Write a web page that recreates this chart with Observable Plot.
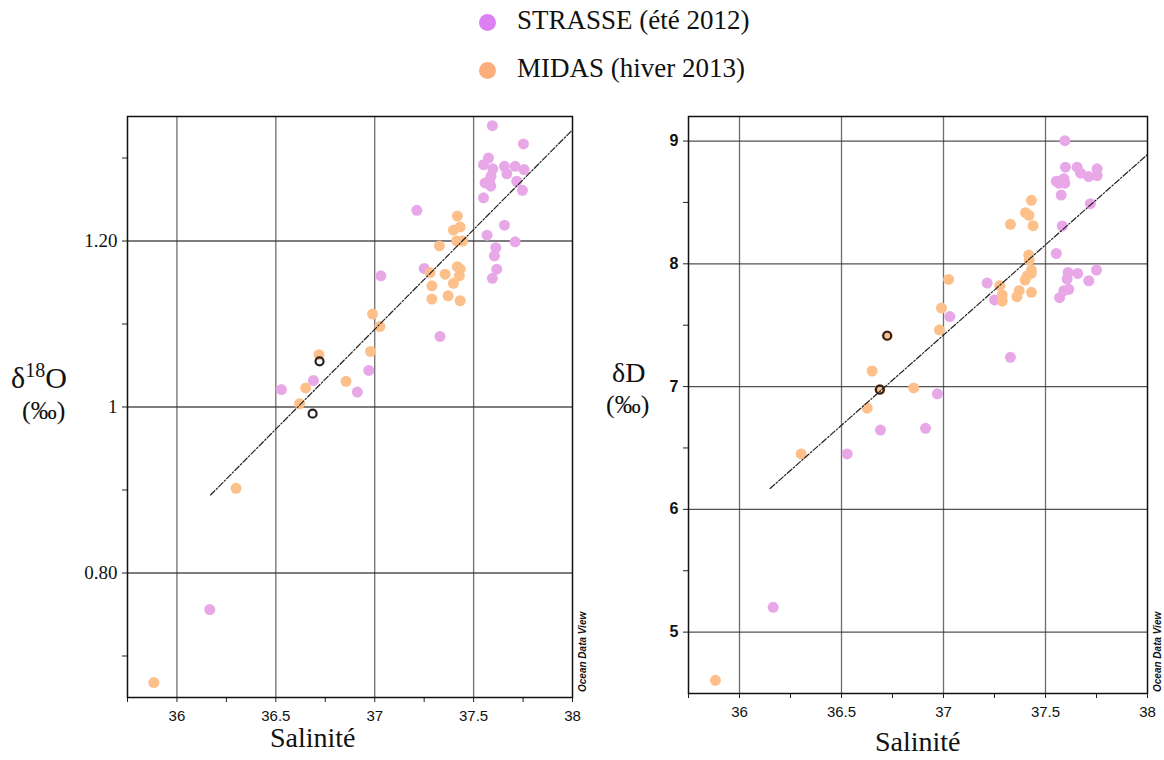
<!DOCTYPE html>
<html>
<head>
<meta charset="utf-8">
<script src="https://cdn.jsdelivr.net/npm/d3@7"></script>
<script src="https://cdn.jsdelivr.net/npm/@observablehq/plot@0.6"></script>
<style>
  html, body { margin: 0; padding: 0; background: #fff; }
  #root { position: relative; width: 1164px; height: 760px; overflow: hidden; }
  .abs { position: absolute; }
  .serif { font-family: "Liberation Serif", "Times New Roman", serif; color: #111; }
  .leg-dot { position: absolute; width: 17px; height: 17px; border-radius: 50%; }
  .odv { position: absolute; font-family: "Liberation Sans", Arial, sans-serif; font-weight: bold; font-style: italic; font-size: 10px; color: #111; transform: rotate(-90deg); transform-origin: left top; white-space: nowrap; }
</style>
</head>
<body>
<div id="root"></div>
<script>
// ---------- Data ----------
const seriesNames = ["STRASSE (été 2012)", "MIDAS (hiver 2013)"];

// Left panel: δ18O vs salinity
const strasseSalL = [37.595, 37.752, 37.575, 37.55, 37.597, 37.656, 37.71, 37.755, 37.668, 37.588, 37.58, 37.558, 37.587, 37.718, 37.747, 37.55, 37.213, 37.656, 37.568, 37.71, 37.612, 37.605, 37.617, 37.595, 37.25, 37.031, 37.33, 36.97, 36.69, 36.528, 36.912, 36.166];
const strasseO18 = [1.339, 1.317, 1.300, 1.292, 1.287, 1.290, 1.290, 1.286, 1.281, 1.278, 1.272, 1.270, 1.266, 1.272, 1.261, 1.252, 1.237, 1.219, 1.207, 1.199, 1.192, 1.182, 1.166, 1.155, 1.167, 1.158, 1.085, 1.044, 1.032, 1.021, 1.018, 0.756];
const midasSalL = [37.418, 37.398, 37.432, 37.415, 37.444, 37.327, 37.418, 37.432, 37.428, 37.356, 37.28, 37.289, 37.398, 37.371, 37.289, 37.432, 36.989, 37.026, 36.979, 36.718, 36.855, 36.651, 36.62, 36.299, 35.883];
const midasO18 = [1.230, 1.213, 1.217, 1.200, 1.200, 1.194, 1.169, 1.166, 1.158, 1.160, 1.162, 1.146, 1.149, 1.134, 1.130, 1.128, 1.112, 1.097, 1.067, 1.063, 1.031, 1.023, 1.004, 0.902, 0.668];
const ringSalL = [36.721, 36.686];
const ringO18 = [1.055, 0.992];
const fitSalL = [36.17, 38.0];
const fitO18 = [0.894, 1.334];

// Right panel: δD vs salinity
const strasseSalR = [37.595, 37.598, 37.655, 37.672, 37.712, 37.753, 37.753, 37.553, 37.59, 37.595, 37.565, 37.577, 37.72, 37.582, 37.553, 37.611, 37.658, 37.75, 37.606, 37.712, 37.614, 37.59, 37.569, 37.214, 37.25, 37.031, 37.328, 36.97, 36.691, 36.912, 36.528, 36.165];
const strasseD = [9.003, 8.787, 8.787, 8.738, 8.711, 8.774, 8.719, 8.673, 8.693, 8.657, 8.657, 8.56, 8.49, 8.308, 8.084, 7.93, 7.922, 7.949, 7.876, 7.862, 7.792, 7.781, 7.724, 7.843, 7.706, 7.57, 7.238, 6.941, 6.646, 6.66, 6.451, 5.202];
const midasSalR = [37.431, 37.402, 37.419, 37.328, 37.439, 37.418, 37.42, 37.431, 37.43, 37.41, 37.4, 37.431, 37.371, 37.36, 37.276, 37.288, 37.288, 37.025, 36.99, 36.98, 36.724, 36.65, 36.688, 36.854, 36.626, 36.302, 35.882];
const midasD = [8.517, 8.417, 8.395, 8.322, 8.311, 8.071, 8.03, 7.949, 7.922, 7.9, 7.868, 7.768, 7.781, 7.732, 7.822, 7.746, 7.697, 7.873, 7.64, 7.462, 7.414, 7.127, 6.976, 6.989, 6.824, 6.451, 4.607];
const ringSalR = [36.724, 36.688];
const ringD = [7.414, 6.976];
const fitSalR = [36.15, 38.0];
const fitD = [6.17, 8.89];

// Axis ticks
const xTickLabels = [36, 36.5, 37, 37.5, 38];
const xMinorTicks = [35.75, 36, 36.25, 36.5, 36.75, 37, 37.25, 37.5, 37.75, 38];
const xGrid = [36, 36.5, 37, 37.5];
const yTicksL = [0.8, 1.0, 1.2];
const yTickTextL = ["0.80", "1", "1.20"];
const yMinorL = [0.7, 0.8, 0.9, 1.0, 1.1, 1.2, 1.3];
const yTicksR = [5, 6, 7, 8, 9];
const yMinorR = [5, 5.5, 6, 6.5, 7, 7.5, 8, 8.5, 9];

// ---------- Styles ----------
const colPink = "#E8A8E8", colOrange = "#FEC08B";
const legPink = "#DD80F4", legOrange = "#FCAF7C";

const zip = (xs, ys) => xs.map((x, i) => ({x, y: ys[i]}));

function panel({width, marginLeft, marginRight, marginBottom, yDomain, yTicks, yFmt, yMinor, yFont, yWeight, yFontSize,
                pink, orange, rings, fit}) {
  return Plot.plot({
    width, height: 760,
    marginLeft, marginRight, marginTop: 116, marginBottom,
    x: {domain: [35.75, 38]},
    y: {domain: yDomain},
    style: {background: "transparent", overflow: "visible"},
    marks: [
      Plot.gridX(xGrid, {stroke: "#555", strokeOpacity: 0.85, strokeWidth: 1.3}),
      Plot.gridY(yTicks, {stroke: "#333", strokeOpacity: 0.85, strokeWidth: 1.3}),
      Plot.axisX({ticks: xMinorTicks, tickSize: 5, tickFormat: () => "", stroke: "#222", label: null}),
      Plot.axisX({ticks: xTickLabels, tickSize: 0, tickPadding: 13, tickFormat: d => String(d), label: null,
                  fontSize: 15, fontFamily: "Liberation Sans, Arial, sans-serif", fill: "#111"}),
      Plot.axisY({ticks: yMinor, tickSize: 5, tickFormat: () => "", stroke: "#222", label: null}),
      Plot.axisY({ticks: yTicks, tickSize: 0, tickPadding: 10, tickFormat: yFmt, label: null,
                  fontSize: yFontSize, fontFamily: yFont, fontWeight: yWeight, fill: "#111"}),
      Plot.dot(pink, {x: "x", y: "y", r: 5.5, fill: colPink, stroke: "none"}),
      Plot.dot(orange, {x: "x", y: "y", r: 5.5, fill: colOrange, stroke: "none"}),
      Plot.line(fit, {x: "x", y: "y", stroke: "#222", strokeWidth: 1.2, strokeDasharray: "6,2,1.5,2"}),
      Plot.dot(rings, {x: "x", y: "y", r: 4, fill: "none", stroke: "#2a2222", strokeWidth: 2.2}),
      Plot.frame({stroke: "#111", strokeWidth: 1.5})
    ]
  });
}

const root = document.getElementById("root");

const left = panel({
  width: 600, marginLeft: 127, marginRight: 28, marginBottom: 63,
  yDomain: [0.65, 1.35], yTicks: yTicksL, yMinor: yMinorL,
  yFmt: d => yTickTextL[yTicksL.findIndex(t => Math.abs(t - d) < 1e-9)],
  yFont: "Liberation Serif, Times New Roman, serif", yWeight: "normal", yFontSize: 19,
  pink: zip(strasseSalL, strasseO18), orange: zip(midasSalL, midasO18),
  rings: zip(ringSalL, ringO18), fit: zip(fitSalL, fitO18)
});
left.classList.add("abs");
left.style.left = "0px"; left.style.top = "0px";
root.appendChild(left);

const right = panel({
  width: 564, marginLeft: 88, marginRight: 17, marginBottom: 67,
  yDomain: [4.5, 9.2], yTicks: yTicksR, yMinor: yMinorR,
  yFmt: d => String(d),
  yFont: "Liberation Sans, Arial, sans-serif", yWeight: "bold", yFontSize: 16,
  pink: zip(strasseSalR, strasseD), orange: zip(midasSalR, midasD),
  rings: zip(ringSalR, ringD), fit: zip(fitSalR, fitD)
});
right.classList.add("abs");
right.style.left = "600px"; right.style.top = "0px";
root.appendChild(right);

// ---------- Legend ----------
function addEl(html, cls, css) {
  const d = document.createElement("div");
  d.className = cls; d.innerHTML = html;
  Object.assign(d.style, css);
  root.appendChild(d);
  return d;
}
[legPink, legOrange].forEach((c, i) => {
  addEl("", "leg-dot", {left: (479) + "px", top: (14 + i * 48) + "px", background: c});
  addEl(seriesNames[i], "abs serif", {left: "517px", top: (5 + i * 48) + "px", fontSize: "27px", whiteSpace: "nowrap"});
});

// ---------- Axis titles ----------
addEl("δ<span style='font-size:20px;position:relative;top:-11px'>18</span>O", "abs serif",
      {left: "11px", top: "361px", fontSize: "30px", whiteSpace: "nowrap"});
addEl("(‰)", "abs serif", {left: "22px", top: "396px", fontSize: "26px", whiteSpace: "nowrap"});
addEl("δD", "abs serif", {left: "612px", top: "357px", fontSize: "28px", whiteSpace: "nowrap"});
addEl("(‰)", "abs serif", {left: "606px", top: "390px", fontSize: "26px", whiteSpace: "nowrap"});
addEl("Salinité", "abs serif", {left: "270px", top: "722px", fontSize: "28px", whiteSpace: "nowrap"});
addEl("Salinité", "abs serif", {left: "875px", top: "726px", fontSize: "28px", whiteSpace: "nowrap"});

// Ocean Data View credits
addEl("Ocean Data View", "odv", {left: "577px", top: "692px"});
addEl("Ocean Data View", "odv", {left: "1152px", top: "692px"});
</script>
</body>
</html>
